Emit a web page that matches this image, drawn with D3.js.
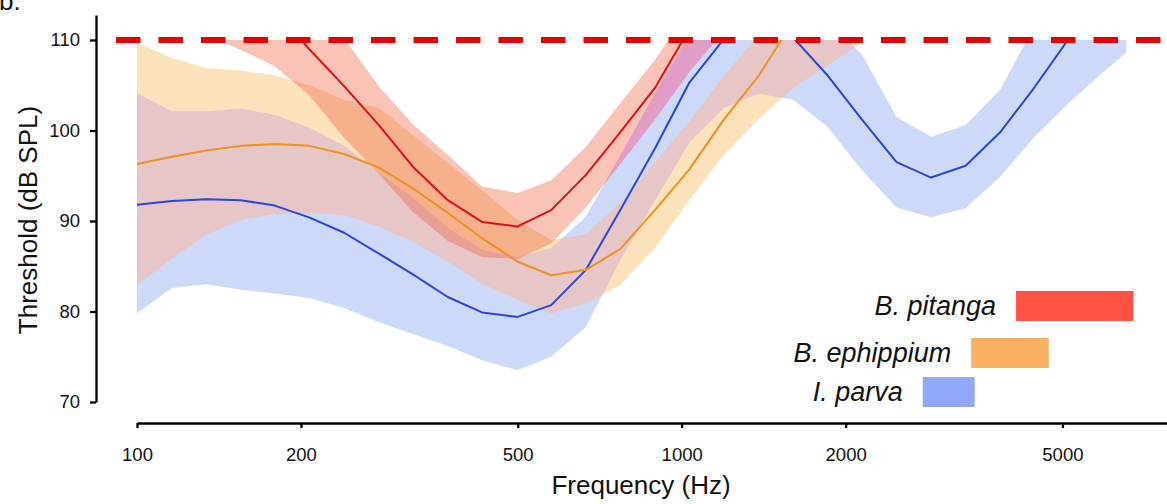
<!DOCTYPE html>
<html>
<head>
<meta charset="utf-8">
<script src="https://cdn.jsdelivr.net/npm/d3@7"></script>
<style>
  body { margin: 0; background: #fff; }
  svg { display: block; font-family: "Liberation Sans", Arial, sans-serif; }
</style>
</head>
<body>
<script>
// frequencies (Hz) of the sampled points
const freqs = [100, 116, 134, 155, 179, 207, 240, 278, 321, 372, 430, 500, 576, 667, 771,
  893, 1033, 1195, 1383, 1600, 1852, 2143, 2480, 2870, 3321, 3843, 4447, 5146, 5955, 6550];

// I. parva
const parvaMean = [91.8, 92.2, 92.4, 92.3, 91.7, 90.4, 88.7, 86.4, 84.1, 81.6, 79.9, 79.4, 80.7, 84.6, 91.2,
  98.0, 105.3, 110.1, 113, 110.3, 106.1, 101.2, 96.5, 94.8, 96.1, 99.8, 104.8, 110.2, 113, null];
const parvaHi = [104.1, 102.1, 102.1, 102.4, 101.7, 100.3, 98.3, 95.3, 92.6, 89.2, 86.8, 86.0, 87.0, 90.5, 97.2,
  104.1, 110.5, 114, 116, 115, 112, 108.4, 101.5, 99.3, 100.6, 104.5, 111.6, 114, 116, 117];
const parvaLo = [79.8, 82.6, 83.0, 82.4, 82.0, 81.5, 80.4, 78.8, 77.5, 76.2, 74.6, 73.5, 75.0, 78.3, 85.7,
  92.3, 98.7, 102.5, 104.1, 103.4, 100.4, 95.6, 91.5, 90.4, 91.4, 94.9, 99.3, 103.1, 106.5, 108.6];

// B. ephippium
const ephMean = [96.3, 97.1, 97.8, 98.3, 98.5, 98.3, 97.4, 95.9, 93.6, 90.9, 88.1, 85.5, 84.0, 84.6, 86.9,
  91.2, 95.7, 101.2, 106.0, 112, null, null, null, null, null, null, null, null, null, null];
const ephHi = [109.7, 108.0, 106.9, 106.6, 106.1, 105.0, 103.4, 102.5, 99.5, 96.4, 93.4, 90.1, 87.9, 88.5, 92.0,
  96.5, 101.0, 106.0, 110.5, 113, 115, 116, null, null, null, null, null, null, null, null];
const ephLo = [82.9, 85.9, 88.5, 90.1, 90.8, 90.9, 90.7, 89.4, 87.7, 85.5, 83.1, 81.3, 79.8, 80.9, 82.9,
  87.0, 92.3, 97.3, 101.2, 104.7, 107.2, 109.7, null, null, null, null, null, null, null, null];

// B. pitanga
const pitMean = [null, null, null, null, 113.3, 109.0, 104.9, 100.6, 96.0, 92.3, 89.9, 89.4, 91.2, 95.1, 99.8,
  104.7, 111.2, null, null, null, null, null, null, null, null, null, null, null, null, null];
const pitHi = [null, null, 118, 117, 115, 112, 110.2, 104.9, 100.7, 97.3, 93.8, 93.1, 94.5, 98.2, 103.0,
  107.8, 113.5, 116, null, null, null, null, null, null, null, null, null, null, null, null];
const pitLo = [null, null, 110.6, 108.9, 107.1, 103.9, 99.2, 95.2, 91.0, 87.8, 86.0, 85.8, 87.5, 91.5, 96.3,
  101.2, 106.5, 111, null, null, null, null, null, null, null, null, null, null, null, null];

// legend: call frequency range of each species (Hz)
const legendNames = ["B. pitanga", "B. ephippium", "I. parva"];
const legendRanges = [[4110, 6750], [3400, 4720], [2770, 3450]];

const xTicks = [100, 200, 500, 1000, 2000, 5000];
const yTicks = [70, 80, 90, 100, 110];
const ceiling = 110;

const width = 1167, height = 504;

const svg = d3.select("body").append("svg")
  .attr("width", width)
  .attr("height", height);

const defs = svg.append("defs");

const x = d3.scaleLog().domain([100, 7780]).range([137, 1167]);
const y = d3.scaleLinear().domain([70, 112.76]).range([402, 15]);

// clip everything above 110 dB
defs.append("clipPath").attr("id", "clip")
  .append("rect")
  .attr("x", 0).attr("y", y(ceiling))
  .attr("width", width).attr("height", height - y(ceiling));

const area = d3.area()
  .defined(d => d.lo != null && d.hi != null)
  .x(d => x(d.f))
  .y0(d => y(d.lo))
  .y1(d => y(d.hi));

const line = d3.line()
  .defined(d => d.m != null)
  .x(d => x(d.f))
  .y(d => y(d.m));

function points(mean, hi, lo) {
  return freqs.map((f, i) => ({ f: f, m: mean[i], hi: hi[i], lo: lo[i] }));
}

const parva = points(parvaMean, parvaHi, parvaLo);
const eph = points(ephMean, ephHi, ephLo);
const pit = points(pitMean, pitHi, pitLo);

// the I. parva band is also used as a clip / mask, for the overlap tints
defs.append("clipPath").attr("id", "parvaBand")
  .append("path").attr("d", area(parva));

const mask = defs.append("mask").attr("id", "parvaOnly")
  .attr("maskUnits", "userSpaceOnUse")
  .attr("x", 0).attr("y", 0).attr("width", width).attr("height", height);
mask.append("rect").attr("width", width).attr("height", height).attr("fill", "#000");
mask.append("path").attr("d", area(parva)).attr("fill", "#fff");
mask.append("path").attr("d", area(eph)).attr("fill", "#000");

const plot = svg.append("g").attr("clip-path", "url(#clip)");

plot.append("path").attr("d", area(parva))
  .attr("fill", "#7f9ff0").attr("fill-opacity", 0.4);
plot.append("path").attr("d", area(eph))
  .attr("fill", "#f6bb5c").attr("fill-opacity", 0.42);
// ephippium over parva reads as a dusty pink in the original
plot.append("path").attr("d", area(eph))
  .attr("clip-path", "url(#parvaBand)")
  .attr("fill", "#e7c6c8");
plot.append("path").attr("d", area(pit))
  .attr("fill", "#f06040").attr("fill-opacity", 0.38);
// pitanga over parva alone reads as magenta
plot.append("path").attr("d", area(pit))
  .attr("mask", "url(#parvaOnly)")
  .attr("fill", "#e29bc8").attr("fill-opacity", 0.9);

[[parva, "#2846dc"], [eph, "#f0901e"], [pit, "#e3101a"]].forEach(([pts, c]) => {
  plot.append("path")
    .attr("d", line(pts))
    .attr("fill", "none")
    .attr("stroke", c)
    .attr("stroke-width", 2)
    .attr("stroke-linejoin", "round");
});

// ceiling dashed line
svg.append("line")
  .attr("x1", 116).attr("x2", 1162)
  .attr("y1", y(ceiling)).attr("y2", y(ceiling))
  .attr("stroke", "#e60000")
  .attr("stroke-width", 6)
  .attr("stroke-dasharray", "24.5,18");

// axes
const yAxis = svg.append("g")
  .attr("transform", "translate(96,0)")
  .call(d3.axisLeft(y).tickValues(yTicks).tickSize(6).tickSizeOuter(0).tickPadding(10));

const xAxis = svg.append("g")
  .attr("transform", "translate(0,423)")
  .call(d3.axisBottom(x).tickValues(xTicks).tickFormat(d3.format("d"))
    .tickSize(5).tickSizeOuter(0).tickPadding(20));

[yAxis, xAxis].forEach(g => {
  g.select(".domain").attr("stroke", "#000").attr("stroke-width", 2.3);
  g.selectAll(".tick line").attr("stroke", "#000").attr("stroke-width", 2.3);
  g.selectAll(".tick text")
    .attr("fill", "#111")
    .style("font-size", "18.5px")
    .style("font-family", "'Liberation Sans', Arial, sans-serif");
});

// axis titles
svg.append("text")
  .attr("x", 641).attr("y", 494)
  .attr("text-anchor", "middle")
  .style("font-size", "26px")
  .attr("fill", "#111")
  .text("Frequency (Hz)");

svg.append("text")
  .attr("transform", "translate(37,220) rotate(-90)")
  .attr("text-anchor", "middle")
  .style("font-size", "26px")
  .attr("fill", "#111")
  .text("Threshold (dB SPL)");

// panel letter, cut by the top edge as in the original
svg.append("text")
  .attr("x", -1).attr("y", 10)
  .style("font-size", "26px")
  .attr("fill", "#111")
  .text("b.");

// legend
const legendColors = ["#ff5244", "#f8b062", "#92a8fa"];
const legendY = [291, 338, 377];
legendNames.forEach((name, i) => {
  const r = legendRanges[i];
  svg.append("rect")
    .attr("x", x(r[0])).attr("y", legendY[i])
    .attr("width", x(r[1]) - x(r[0])).attr("height", 30)
    .attr("fill", legendColors[i]);
  svg.append("text")
    .attr("x", x(r[0]) - 20).attr("y", legendY[i] + 24)
    .attr("text-anchor", "end")
    .style("font-size", "27px")
    .style("font-style", "italic")
    .attr("fill", "#111")
    .text(name);
});
</script>
</body>
</html>
